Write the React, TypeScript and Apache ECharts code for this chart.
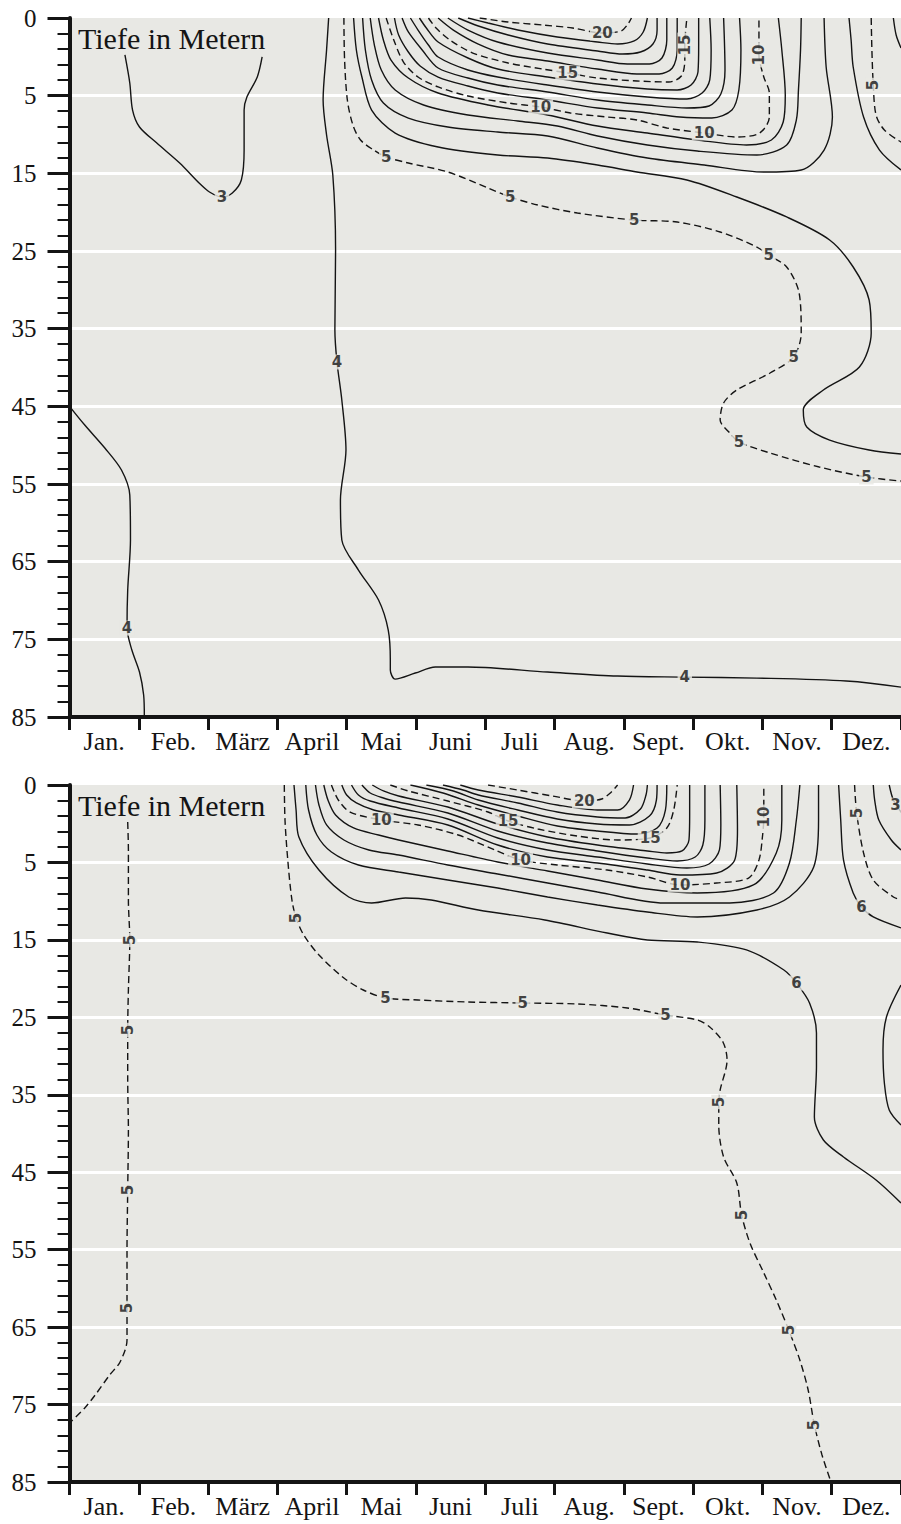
import React, { useEffect, useRef } from 'react';
import * as echarts from 'echarts';

const MONTHS = ['Jan.', 'Feb.', 'März', 'April', 'Mai', 'Juni', 'Juli', 'Aug.', 'Sept.', 'Okt.', 'Nov.', 'Dez.'];
const DEPTH_TICKS = ['0', '5', '15', '25', '35', '45', '55', '65', '75', '85'];
const AXIS_TITLE = 'Tiefe in Metern';

// isotherms: [temperature °C, points [month (0 = start of Jan), depth-axis position (tick i = i*10)]]
const TOP_CONTOURS: [number, number[][]][] = [
  [3, [[0.80,4.76],[0.87,8.37],[0.91,11.85],[1.01,14.03],[1.26,16.10],[1.59,18.67],[1.87,21.24],[2.02,22.40],[2.20,23.05],[2.35,22.53],[2.48,20.86],[2.52,17.00],[2.52,11.85],[2.56,10.17],[2.71,7.60],[2.78,5.02]]],
  [4, [[3.74,0],[3.71,4.12],[3.66,10.56],[3.71,15.06],[3.80,20.21],[3.84,29.87],[3.83,40.17],[3.86,44.29],[3.93,49.19],[3.99,55.62],[3.91,62.06],[3.93,67.21],[4.17,71.08],[4.46,74.94],[4.60,78.80],[4.63,82.67],[4.63,83.95],[4.70,85.12],[4.99,84.34],[5.28,83.57],[5.75,83.57],[6.90,84.21],[7.91,84.73],[8.88,84.86],[9.92,84.99],[11.21,85.37],[12.0,86.15]]],
  [4, [[0.0,50.0],[0.22,52.41],[0.51,55.37],[0.75,58.20],[0.87,61.42],[0.88,67.21],[0.84,73.65],[0.83,78.55],[0.90,81.38],[1.01,84.21],[1.07,87.17],[1.08,90]]],
  [5, [[3.96,0],[3.97,5.41],[4.01,10.56],[4.09,13.78],[4.20,15.71],[4.39,17.00],[4.57,17.90],[4.89,18.67],[5.46,19.83],[6.04,21.89],[6.36,23.05],[6.76,24.08],[7.33,25.11],[8.15,26.01],[8.77,26.27],[9.39,27.55],[9.92,29.49],[10.09,30.52],[10.35,32.06],[10.53,35.41],[10.56,40.56],[10.45,43.65],[10.11,45.71],[9.63,47.90],[9.44,49.57],[9.39,51.76],[9.53,53.44],[9.66,54.59],[10.11,56.01],[10.82,57.81],[11.50,59.10],[12.0,59.62]]],
  [6, [[4.10,0],[4.14,4.12],[4.22,7.60],[4.36,11.85],[4.70,14.81],[5.32,16.61],[6.18,17.64],[6.90,18.03],[7.62,18.93],[8.19,19.83],[8.91,20.86],[9.63,23.05],[10.35,25.62],[10.97,28.58],[11.31,32.06],[11.54,36.31],[11.57,40.56],[11.40,44.94],[10.88,47.90],[10.59,50.47],[10.64,52.66],[10.97,54.34],[11.54,55.62],[12.0,56.14]]],
  [7, [[4.23,0],[4.27,4.12],[4.36,7.98],[4.53,10.94],[4.89,12.88],[5.46,14.03],[6.18,14.68],[6.90,15.19],[7.62,16.74],[8.34,18.03],[9.16,18.93],[10.02,19.83],[10.56,19.57],[10.89,17.00],[11.01,12.75],[10.92,6.31],[10.89,0]]],
  [8, [[4.34,0],[4.40,3.48],[4.50,6.70],[4.70,9.27],[5.11,11.20],[5.75,12.49],[6.47,13.26],[7.04,13.91],[7.62,15.19],[8.34,16.35],[9.06,17.13],[9.92,17.64],[10.35,16.35],[10.49,13.13],[10.52,9.27],[10.55,4.12],[10.56,0]]],
  [9, [[4.46,0],[4.53,2.83],[4.64,5.41],[4.89,7.73],[5.32,9.66],[6.04,11.20],[6.90,12.49],[7.62,13.91],[8.34,14.81],[9.06,15.71],[9.77,16.35],[10.13,15.71],[10.30,13.39],[10.33,9.91],[10.28,4.12],[10.23,0]]],
  [10, [[4.57,0],[4.68,2.83],[4.82,5.67],[5.03,7.60],[5.32,8.88],[5.75,10.04],[6.33,10.94],[6.80,11.46],[7.23,12.23],[7.76,12.75],[8.19,13.13],[8.62,14.16],[9.16,14.81],[9.63,15.32],[9.96,14.81],[10.10,12.75],[10.10,9.66],[10.02,7.60],[9.95,4.76],[9.95,0]]],
  [11, [[4.69,0],[4.75,2.19],[4.89,4.38],[5.06,6.18],[5.32,7.60],[5.75,8.76],[6.18,9.66],[6.90,10.56],[7.62,11.59],[8.34,12.23],[8.81,12.75],[9.27,12.88],[9.56,11.85],[9.66,9.27],[9.69,4.12],[9.67,0]]],
  [12, [[4.80,0],[4.89,1.80],[5.09,4.12],[5.32,6.44],[5.75,7.73],[6.18,8.63],[6.90,9.53],[7.62,10.56],[8.34,11.20],[8.91,11.59],[9.23,11.33],[9.40,9.79],[9.46,6.70],[9.44,0]]],
  [13, [[4.92,0],[5.03,1.55],[5.18,3.48],[5.32,5.02],[5.75,6.70],[6.18,7.60],[6.90,8.63],[7.62,9.53],[8.34,10.17],[8.91,10.43],[9.13,9.66],[9.24,7.98],[9.26,4.12],[9.24,0]]],
  [14, [[5.05,0],[5.15,1.29],[5.32,3.09],[5.75,5.15],[6.18,6.57],[6.90,7.60],[7.62,8.50],[8.34,9.14],[8.77,9.27],[8.97,8.63],[9.07,6.95],[9.08,3.48],[9.08,0]]],
  [15, [[5.18,0],[5.29,1.29],[5.49,2.83],[5.82,4.51],[6.33,5.79],[6.83,6.57],[7.19,7.08],[7.62,7.73],[8.19,8.11],[8.65,8.24],[8.83,7.47],[8.88,5.41],[8.88,3.48],[8.91,0]]],
  [16, [[5.32,0],[5.54,1.55],[5.90,3.35],[6.33,4.76],[6.90,5.54],[7.62,6.57],[8.19,7.21],[8.51,7.21],[8.70,6.44],[8.77,4.12],[8.77,0]]],
  [17, [[5.46,0],[5.75,1.55],[6.18,3.09],[6.90,4.51],[7.62,5.41],[8.05,5.92],[8.37,5.92],[8.55,5.15],[8.62,2.83],[8.62,0]]],
  [18, [[5.61,0],[5.90,1.03],[6.33,2.19],[6.90,3.35],[7.62,4.25],[7.98,4.64],[8.24,4.38],[8.42,3.35],[8.48,1.55],[8.48,0]]],
  [19, [[5.75,0],[6.04,0.64],[6.47,1.55],[7.04,2.45],[7.62,3.09],[7.91,3.35],[8.15,2.96],[8.28,1.80],[8.34,0]]],
  [20, [[5.92,0],[6.33,0.52],[6.83,0.90],[7.26,1.29],[7.69,1.93],[7.96,1.67],[8.06,0.77],[8.11,0]]],
  [6, [[11.25,0],[11.28,2.83],[11.31,6.31],[11.46,12.75],[11.69,17.00],[12.0,19.57]]],
  [5, [[11.57,0],[11.58,4.12],[11.60,8.63],[11.64,12.49],[11.76,14.42],[12.0,15.97]]],
  [4, [[11.89,0],[11.93,2.19],[12.0,3.86]]],
];

const TOP_LABELS: [string, number, number][] = [
  ['3', 2.20, 23.05], ['4', 3.86, 44.29], ['4', 0.83, 78.55], ['4', 8.88, 84.86],
  ['5', 4.57, 17.90], ['5', 6.36, 23.05], ['5', 8.15, 26.01], ['5', 10.09, 30.52],
  ['5', 10.45, 43.65], ['5', 9.66, 54.59], ['5', 11.50, 59.10],
  ['10', 6.80, 11.46], ['10', 9.16, 14.81], ['15', 7.19, 7.08], ['20', 7.69, 1.93],
];
const TOP_LABELS_ALONG_VERTICAL: [string, number, number][] = [
  ['10', 9.95, 4.76], ['15', 8.88, 3.48], ['5', 11.60, 8.63],
];

const BOTTOM_CONTOURS: [number, number[][]][] = [
  [5, [[0.84,4.78],[0.85,8.39],[0.85,14.85],[0.87,20.01],[0.85,26.47],[0.84,31.63],[0.84,38.09],[0.85,44.55],[0.84,52.29],[0.83,60.04],[0.83,67.53],[0.83,71.67],[0.73,74.51],[0.58,76.18],[0.37,78.77],[0.22,80.44],[0.0,82.38]]],
  [5, [[3.10,0],[3.11,4.52],[3.15,9.68],[3.21,14.85],[3.27,17.17],[3.38,19.37],[3.60,21.95],[3.96,24.92],[4.24,26.47],[4.56,27.50],[5.03,27.76],[5.75,28.02],[6.54,28.15],[7.33,28.28],[8.05,28.79],[8.60,29.70],[9.06,30.34],[9.24,31.25],[9.43,33.18],[9.49,35.51],[9.39,39.38],[9.37,40.93],[9.37,43.90],[9.44,48.03],[9.63,51.39],[9.70,55.52],[9.82,59.14],[10.02,63.01],[10.20,66.50],[10.38,70.38],[10.54,74.25],[10.66,78.12],[10.75,82.63],[10.86,86.51],[10.99,90]]],
  [6, [[3.24,0],[3.27,3.23],[3.31,6.71],[3.60,10.98],[4.03,14.46],[4.36,15.24],[4.85,14.59],[5.22,14.85],[5.90,16.14],[6.86,17.43],[7.76,19.11],[8.34,20.01],[9.06,20.27],[9.77,21.30],[10.31,23.89],[10.49,25.57],[10.68,28.15],[10.78,32.02],[10.78,36.41],[10.75,42.87],[10.88,45.84],[11.17,48.03],[11.64,51.00],[12.0,53.97]]],
  [7, [[3.41,0],[3.45,3.23],[3.57,6.46],[3.78,8.65],[4.17,10.33],[4.75,11.23],[5.46,12.27],[6.18,13.30],[6.90,14.46],[7.62,15.49],[8.34,16.40],[9.06,17.04],[9.92,16.14],[10.39,14.46],[10.74,10.59],[10.81,4.52],[10.81,0]]],
  [8, [[3.55,0],[3.60,2.58],[3.71,5.16],[3.96,7.10],[4.32,8.39],[4.75,9.04],[5.46,10.33],[6.18,11.49],[6.90,12.65],[7.62,13.82],[8.58,15.24],[9.53,15.24],[10.16,13.94],[10.39,10.07],[10.49,4.52],[10.54,0]]],
  [9, [[3.67,0],[3.73,1.94],[3.84,3.87],[4.10,5.55],[4.46,6.46],[4.75,7.10],[5.46,8.52],[6.18,9.94],[6.90,11.10],[7.62,12.27],[8.34,13.43],[9.06,13.94],[9.87,12.91],[10.20,8.78],[10.28,4.52],[10.28,0]]],
  [10, [[3.78,0],[3.88,1.94],[4.05,3.49],[4.50,4.52],[5.03,5.16],[5.61,6.46],[6.14,8.39],[6.51,9.68],[7.04,10.33],[7.76,10.98],[8.34,11.88],[8.81,12.91],[9.34,12.65],[9.80,12.01],[9.95,9.68],[10.00,6.71],[10.02,4.13],[10.02,0]]],
  [11, [[3.93,0],[4.00,1.29],[4.14,2.32],[4.39,3.23],[4.75,3.87],[5.46,5.16],[6.18,7.75],[6.90,9.30],[7.62,10.07],[8.34,10.98],[8.81,11.62],[9.34,11.36],[9.60,9.68],[9.64,5.81],[9.63,0]]],
  [12, [[4.07,0],[4.17,1.29],[4.34,2.07],[4.75,2.97],[5.46,4.39],[6.18,6.84],[6.90,8.39],[7.62,9.30],[8.34,10.20],[8.91,10.72],[9.23,10.20],[9.38,8.39],[9.40,5.16],[9.39,0]]],
  [13, [[4.22,0],[4.34,1.03],[4.53,1.68],[4.75,2.20],[5.46,3.62],[6.18,5.94],[6.90,7.49],[7.62,8.52],[8.34,9.43],[8.77,9.81],[9.03,9.30],[9.14,7.75],[9.17,4.52],[9.17,0]]],
  [14, [[4.37,0],[4.53,0.77],[4.75,1.42],[5.46,2.84],[6.18,5.04],[6.90,6.71],[7.62,7.75],[8.34,8.52],[8.62,8.78],[8.84,8.52],[8.94,7.10],[8.95,3.87],[8.95,0]]],
  [15, [[4.63,0],[4.89,0.77],[5.46,2.07],[6.04,3.49],[6.33,4.65],[6.76,5.68],[7.33,6.59],[7.91,7.10],[8.38,6.84],[8.62,5.55],[8.72,3.23],[8.77,0]]],
  [16, [[4.92,0],[5.39,1.03],[5.90,2.58],[6.47,4.00],[7.04,5.29],[7.62,5.94],[8.19,6.33],[8.48,5.55],[8.60,3.23],[8.62,0]]],
  [17, [[5.15,0],[5.54,0.77],[5.90,1.94],[6.47,3.23],[7.04,4.39],[7.62,5.04],[8.08,5.16],[8.37,4.00],[8.47,1.94],[8.48,0]]],
  [18, [[5.39,0],[5.68,0.65],[5.90,1.29],[6.47,2.32],[7.04,3.49],[7.62,4.13],[8.02,4.26],[8.24,3.10],[8.32,1.29],[8.34,0]]],
  [19, [[5.64,0],[5.90,0.65],[6.47,1.55],[7.04,2.58],[7.62,3.23],[7.91,3.23],[8.08,1.94],[8.14,0]]],
  [20, [[6.04,0],[6.47,0.65],[6.97,1.42],[7.43,2.07],[7.68,1.81],[7.82,0.90],[7.91,0]]],
  [6, [[11.10,0],[11.13,4.52],[11.17,9.68],[11.31,13.94],[11.43,15.75],[11.60,17.04],[12.0,18.46]]],
  [5, [[11.33,0],[11.36,3.62],[11.46,8.78],[11.60,12.27],[11.89,14.46],[12.0,14.85]]],
  [4, [[11.60,0],[11.62,1.94],[11.68,4.52],[11.86,7.10],[12.0,8.39]]],
  [3, [[11.83,0],[11.89,1.94],[12.0,3.49]]],
  [6, [[12.0,25.82],[11.79,29.96],[11.74,34.22],[11.76,38.48],[11.83,41.96],[12.0,43.90]]],
];

const BOTTOM_LABELS: [string, number, number][] = [
  ['5', 4.56, 27.50], ['5', 6.54, 28.15], ['5', 8.60, 29.70],
  ['6', 10.49, 25.57], ['6', 11.43, 15.75],
  ['10', 4.50, 4.52], ['10', 6.51, 9.68], ['10', 8.81, 12.91],
  ['15', 6.33, 4.65], ['15', 8.38, 6.84], ['20', 7.43, 2.07], ['3', 11.92, 2.6],
];
const BOTTOM_LABELS_ALONG_VERTICAL: [string, number, number][] = [
  ['5', 0.87, 20.01], ['5', 0.84, 31.63], ['5', 0.84, 52.29], ['5', 0.83, 67.53],
  ['5', 3.27, 17.17], ['5', 9.37, 40.93], ['5', 9.70, 55.52], ['5', 10.38, 70.38],
  ['5', 10.75, 82.63], ['10', 10.02, 4.13], ['5', 11.36, 3.62],
];

const BG = '#e8e8e4';
const INK = '#141414';
const SERIF = '"Liberation Serif", "Times New Roman", serif';

function buildOption() {
  const grids = [
    { left: 69.5, top: 18, width: 835.5, height: 699 },
    { left: 69.5, top: 785, width: 835.5, height: 697 },
  ].map((g) => ({ ...g, show: true, backgroundColor: BG, borderWidth: 0, containLabel: false }));

  const xAxes: any[] = [];
  const yAxes: any[] = [];
  [0, 1].forEach((gi) => {
    xAxes.push({
      type: 'category', gridIndex: gi, data: MONTHS, position: 'bottom', boundaryGap: true,
      axisLine: { show: true, onZero: false, lineStyle: { color: INK, width: 4 } },
      axisTick: { show: true, length: 13, interval: 0, alignWithLabel: false, lineStyle: { color: INK, width: 3 } },
      axisLabel: { interval: 0, fontSize: 26, fontFamily: SERIF, color: INK, margin: 11 },
      splitLine: { show: false },
    });
    xAxes.push({ type: 'value', gridIndex: gi, min: 0, max: 12, show: false });
    yAxes.push({
      type: 'value', gridIndex: gi, inverse: true, min: 0, max: 90, interval: 10,
      axisLine: { show: true, onZero: false, lineStyle: { color: INK, width: 4 } },
      axisTick: { show: true, length: 22, lineStyle: { color: INK, width: 3 } },
      minorTick: { show: true, splitNumber: 5, length: 12, lineStyle: { color: INK, width: 2 } },
      axisLabel: {
        fontSize: 25, fontFamily: SERIF, color: INK, margin: 33,
        formatter: (v: number) => DEPTH_TICKS[Math.round(v / 10)] ?? '',
      },
      splitLine: { show: true, showMinLine: false, showMaxLine: false, lineStyle: { color: '#ffffff', width: 3 } },
    });
  });

  const series: any[] = [];
  const panels: [typeof TOP_CONTOURS, typeof TOP_LABELS, typeof TOP_LABELS][] = [
    [TOP_CONTOURS, TOP_LABELS, TOP_LABELS_ALONG_VERTICAL],
    [BOTTOM_CONTOURS, BOTTOM_LABELS, BOTTOM_LABELS_ALONG_VERTICAL],
  ];
  panels.forEach(([contours, labels, vlabels], gi) => {
    contours.forEach(([t, pts]) => {
      series.push({
        type: 'line', xAxisIndex: gi * 2 + 1, yAxisIndex: gi, data: pts,
        smooth: 0.3, showSymbol: false, symbol: 'none', silent: true, clip: true, z: 2,
        lineStyle: { color: INK, width: 1.4, type: t % 5 === 0 ? [7, 4] : 'solid' },
      });
    });
    const items = [
      ...labels.map(([txt, m, p]) => ({ name: txt, value: [m, p] })),
      ...vlabels.map(([txt, m, p]) => ({ name: txt, value: [m, p], label: { rotate: 90 } })),
    ];
    series.push({
      type: 'scatter', xAxisIndex: gi * 2 + 1, yAxisIndex: gi, data: items,
      symbolSize: 1, itemStyle: { color: 'rgba(0,0,0,0)' }, silent: true, z: 5,
      label: {
        show: true, position: 'inside', formatter: '{b}', fontSize: 15, fontWeight: 'bold',
        fontFamily: '"DejaVu Sans", sans-serif', color: INK, backgroundColor: BG, padding: [0, 2],
      },
    });
  });

  return {
    animation: false,
    backgroundColor: '#ffffff',
    grid: grids,
    xAxis: xAxes,
    yAxis: yAxes,
    series,
    graphic: [
      { type: 'text', left: 78, top: 23, z: 10, style: { text: AXIS_TITLE, fontSize: 30, fontFamily: SERIF, fill: INK } },
      { type: 'text', left: 78, top: 790, z: 10, style: { text: AXIS_TITLE, fontSize: 30, fontFamily: SERIF, fill: INK } },
    ],
  };
}

export default function App() {
  const ref = useRef<HTMLDivElement>(null);
  useEffect(() => {
    if (!ref.current) return;
    const chart = echarts.init(ref.current, undefined, { renderer: 'svg' });
    chart.setOption(buildOption() as any);
    return () => chart.dispose();
  }, []);
  return <div ref={ref} style={{ position: 'absolute', left: 0, top: 0, width: 901, height: 1524 }} />;
}
